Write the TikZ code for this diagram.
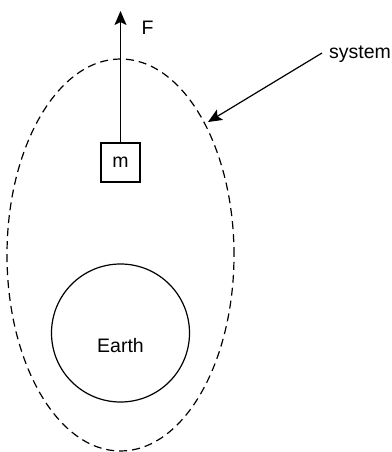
\documentclass[tikz,border=0pt]{standalone}
\usepackage{fontspec}
\setmainfont{Liberation Sans}
\usetikzlibrary{arrows.meta}
\begin{document}
\begin{tikzpicture}[x=1pt,y=-1pt,
  every node/.style={font=\fontsize{19.5}{23}\selectfont, inner sep=0pt},
  stroke/.style={line width=1.2pt},
  arr/.style={stroke, -{Stealth[length=14pt,width=12pt,inset=3pt]}},
  massbox/.style={draw, stroke, minimum size=39pt},
  planet/.style={draw, stroke, circle, minimum size=138pt},
  sysline/.style={stroke, dash pattern=on 8pt off 5pt}]
\useasboundingbox (0,0) rectangle (391,452);
\fill[white] (0,0) rectangle (391,452);
% system boundary
\draw[sysline] (120.5,255) ellipse [x radius=113.5pt, y radius=196pt];
% mass
\node[massbox] (m) at (120.5,162.5) {m};
\coordinate (ftip) at (120.5,11);
\draw[arr] (m.north) -- (ftip);
\node[anchor=base west] (F) at (141.5,35) {F};
% earth
\node[planet] (earth) at (120.5,333) {};
\node[anchor=base] (earthlabel) at (120.5,352) {Earth};
% system label
\node[anchor=base west] (sys) at (329,59) {system};
\coordinate (sysstart) at (322,53);
\coordinate (systip) at (208,122);
\draw[arr] (sysstart) -- (systip);
\end{tikzpicture}
\end{document}
